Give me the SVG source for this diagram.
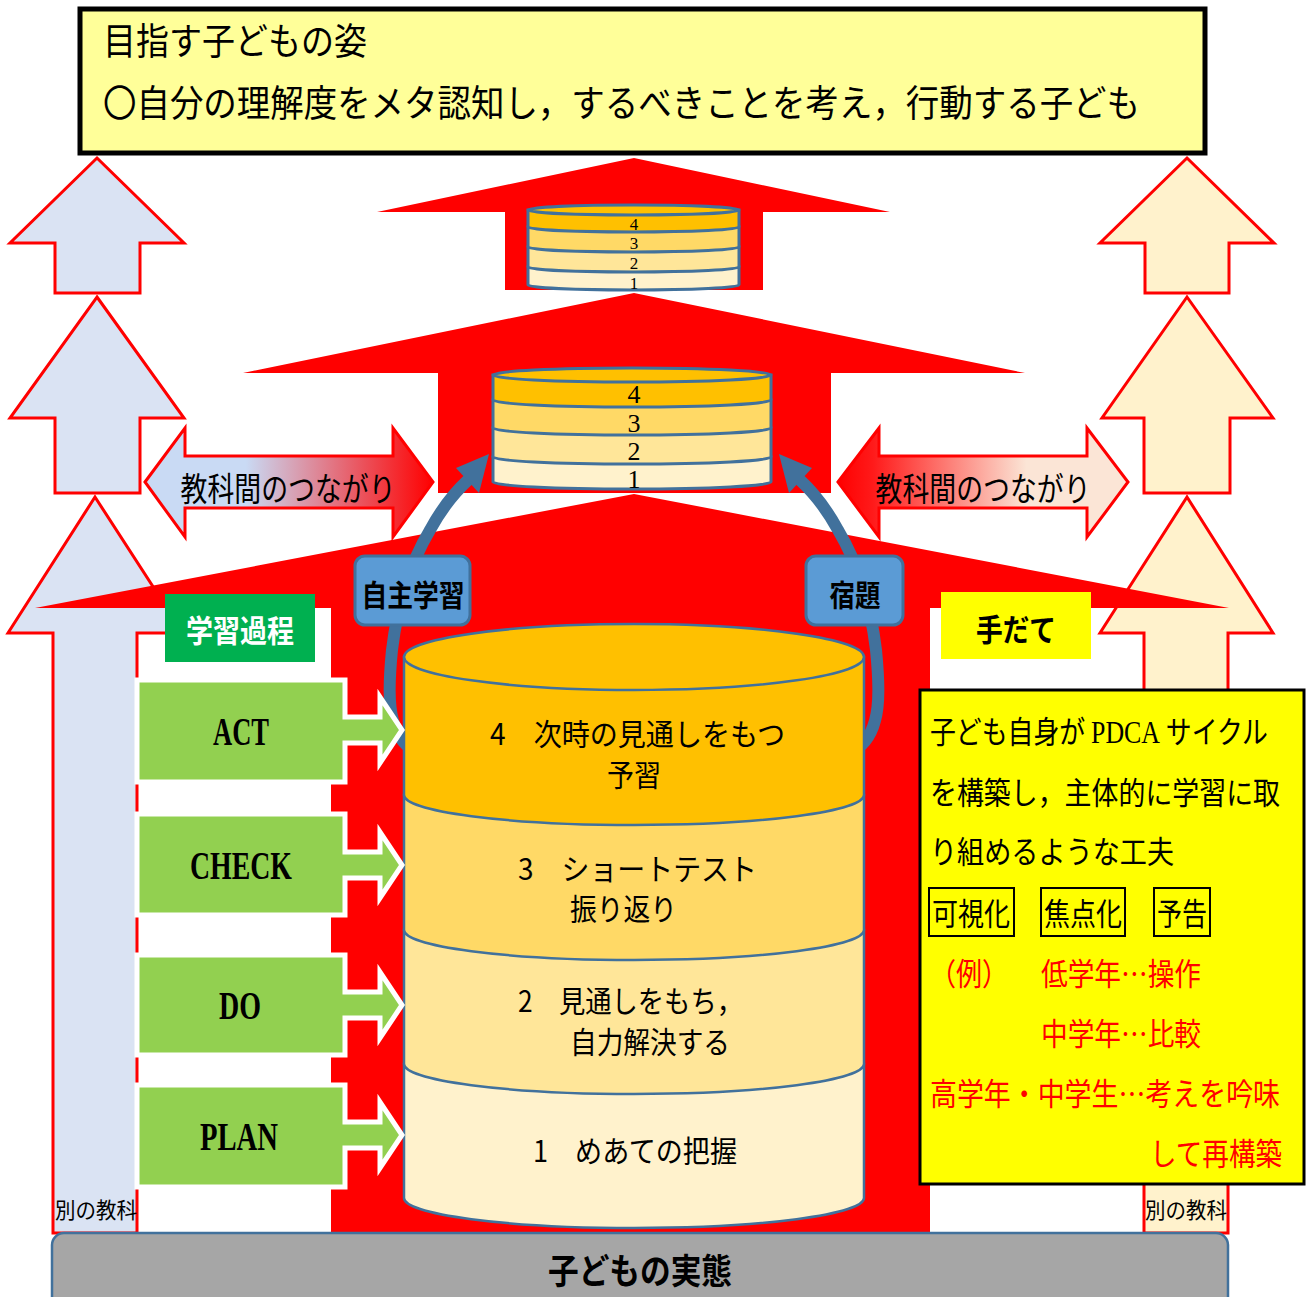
<svg xmlns="http://www.w3.org/2000/svg" width="1307" height="1297" viewBox="0 0 1307 1297">
<defs>
<style>
.red{fill:#FF0000}
.ua-l{fill:#DAE3F3;stroke:#FF0000;stroke-width:3}
.ua-r{fill:#FFF2CC;stroke:#FF0000;stroke-width:3}
.l4{fill:#FFC000}.l3{fill:#FFD966}.l2{fill:#FFE699}.l1{fill:#FFF2CC}
.cyl{stroke:#41719C;stroke-width:2.5}
.cyls{stroke:#41719C;stroke-width:3}
.jp{font-family:"Noto Sans CJK JP","Noto Sans",sans-serif}
.sf{font-family:"Liberation Serif","Noto Sans CJK JP",serif}
.callout{fill:#92D050;stroke:#FFFFFF;stroke-width:5}
.dbl{stroke:#FF0000;stroke-width:3}
.curve{fill:none;stroke:#41719C;stroke-width:12}
.head{fill:#41719C}
.tag{fill:#5B9BD5;stroke:#41719C;stroke-width:3}
</style>
<linearGradient id="gl" x1="0" y1="0" x2="1" y2="0">
<stop offset="0" stop-color="#C9DAF4"/>
<stop offset="0.35" stop-color="#C9DAF4"/>
<stop offset="1" stop-color="#FF0000"/>
</linearGradient>
<linearGradient id="gr" x1="0" y1="0" x2="1" y2="0">
<stop offset="0" stop-color="#FF0000"/>
<stop offset="0.12" stop-color="#FF1A1A"/>
<stop offset="0.65" stop-color="#FBE5D6"/>
<stop offset="1" stop-color="#FBE5D6"/>
</linearGradient>
</defs>
<rect width="1307" height="1297" fill="#FFFFFF"/>

<g id="side-arrows-left">
<path class="ua-l" d="M97,158 L184,243 L140,243 L140,293 L55,293 L55,243 L10,243 Z"/>
<path class="ua-l" d="M97,297 L184,418 L140,418 L140,493 L55,493 L55,418 L10,418 Z"/>
<path class="ua-l" d="M95,497 L183,633 L137,633 L137,1233 L53,1233 L53,633 L8,633 Z"/>
</g>
<g id="side-arrows-right">
<path class="ua-r" d="M1187,158 L1274,243 L1229,243 L1229,293 L1145,293 L1145,243 L1100,243 Z"/>
<path class="ua-r" d="M1187,297 L1273,418 L1230,418 L1230,493 L1144,493 L1144,418 L1102,418 Z"/>
<path class="ua-r" d="M1187,497 L1273,633 L1228,633 L1228,1233 L1144,1233 L1144,633 L1100,633 Z"/>
</g>

<g id="houses">
<path class="red" d="M377,212 L634,158 L890,212 L763,212 L763,290 L505,290 L505,212 Z"/>
<path class="red" d="M243,373 L634,293 L1025,373 L831,373 L831,493 L438,493 L438,373 Z"/>
<path class="red" d="M35,608 L634,494 L1229,608 L930,608 L930,1233 L331,1233 L331,608 Z"/>
</g>

<g id="stack-small">
<path class="l1 cyls" d="M528,267 V285 A105.5,5 0 0 0 739,285 V267 Z"/>
<path class="l2 cyls" d="M528,247 V267 A105.5,5 0 0 0 739,267 V247 Z"/>
<path class="l3 cyls" d="M528,227 V247 A105.5,5 0 0 0 739,247 V227 Z"/>
<path class="l4 cyls" d="M528,210 V227 A105.5,5 0 0 0 739,227 V210 Z"/>
<ellipse class="l4 cyls" cx="633.5" cy="210" rx="105.5" ry="5"/>
<g class="sf" font-size="17" text-anchor="middle" fill="#000">
<text x="634" y="230">4</text>
<text x="634" y="249">3</text>
<text x="634" y="269">2</text>
<text x="634" y="289">1</text>
</g>
</g>

<g id="stack-middle">
<path class="l1 cyls" d="M493,457 V482 A139,7 0 0 0 771,482 V457 Z"/>
<path class="l2 cyls" d="M493,428 V457 A139,7 0 0 0 771,457 V428 Z"/>
<path class="l3 cyls" d="M493,400 V428 A139,7 0 0 0 771,428 V400 Z"/>
<path class="l4 cyls" d="M493,375 V400 A139,7 0 0 0 771,400 V375 Z"/>
<ellipse class="l4 cyls" cx="632" cy="375" rx="139" ry="7"/>
<g class="sf" font-size="26" text-anchor="middle" fill="#000">
<text x="634" y="403">4</text>
<text x="634" y="432">3</text>
<text x="634" y="460">2</text>
<text x="634" y="488">1</text>
</g>
</g>

<g id="link-left">
<path class="dbl" fill="url(#gl)" d="M145,482 L185,428 L185,456 L393,456 L393,428 L433,482 L393,537 L393,508 L185,508 L185,537 Z"/>
<text class="jp" x="288" y="501" font-size="33" text-anchor="middle" textLength="215" lengthAdjust="spacingAndGlyphs" fill="#000">教科間のつながり</text>
</g>
<g id="link-right">
<path class="dbl" fill="url(#gr)" d="M838,482 L879,428 L879,456 L1087,456 L1087,428 L1128,482 L1087,537 L1087,508 L879,508 L879,537 Z"/>
<text class="jp" x="983" y="501" font-size="33" text-anchor="middle" textLength="215" lengthAdjust="spacingAndGlyphs" fill="#000">教科間のつながり</text>
</g>

<g id="connectors">
<path class="curve" d="M410,748 C386,730 388,690 392,650 C398,600 412,560 430,530 C442,508 455,492 468,480"/>
<polygon class="head" points="489,454 456,468 479,493"/>
<path class="curve" d="M858,748 C882,730 880,690 876,650 C870,600 856,560 838,530 C826,508 813,492 800,480"/>
<polygon class="head" points="779,454 812,468 789,493"/>
</g>

<g id="tag-jishu">
<rect class="tag" x="355" y="556" width="115" height="69" rx="10"/>
<text class="jp" x="413" y="606" font-size="30" font-weight="bold" text-anchor="middle" textLength="103" lengthAdjust="spacingAndGlyphs" fill="#000">自主学習</text>
</g>
<g id="tag-shukudai">
<rect class="tag" x="806" y="556" width="97" height="69" rx="10"/>
<text class="jp" x="855" y="606" font-size="30" font-weight="bold" text-anchor="middle" textLength="51" lengthAdjust="spacingAndGlyphs" fill="#000">宿題</text>
</g>

<g id="cylinder-main">
<path class="l1 cyl" d="M404,1064 V1198 A230,30 0 0 0 864,1198 V1064 Z"/>
<path class="l2 cyl" d="M404,930 V1064 A230,30 0 0 0 864,1064 V930 Z"/>
<path class="l3 cyl" d="M404,795 V930 A230,30 0 0 0 864,930 V795 Z"/>
<path class="l4 cyl" d="M404,657 V795 A230,30 0 0 0 864,795 V657 Z"/>
<ellipse class="l4 cyl" cx="634" cy="657" rx="230" ry="33"/>
<g class="jp" font-size="30" fill="#000">
<text x="490" y="745" textLength="295" lengthAdjust="spacingAndGlyphs">4　次時の見通しをもつ</text>
<text x="634" y="786" text-anchor="middle" textLength="54" lengthAdjust="spacingAndGlyphs">予習</text>
<text x="518" y="880" textLength="239" lengthAdjust="spacingAndGlyphs">3　ショートテスト</text>
<text x="570" y="920" textLength="107" lengthAdjust="spacingAndGlyphs">振り返り</text>
<text x="518" y="1012" textLength="225" lengthAdjust="spacingAndGlyphs">2　見通しをもち，</text>
<text x="570" y="1053" textLength="160" lengthAdjust="spacingAndGlyphs">自力解決する</text>
<text x="533" y="1162" textLength="204" lengthAdjust="spacingAndGlyphs">1　めあての把握</text>
</g>
</g>

<g id="process-act">
<path class="callout" d="M137,680 H345 V717 H380 V697 L402,730 L380,763 V743 H345 V782 H137 Z"/>
<text class="sf" x="241" y="745" font-size="40" font-weight="bold" text-anchor="middle" textLength="56" lengthAdjust="spacingAndGlyphs" fill="#000">ACT</text>
</g>
<g id="process-check">
<path class="callout" d="M137,814 H345 V852 H380 V832 L402,865 L380,898 V878 H345 V915 H137 Z"/>
<text class="sf" x="241" y="879" font-size="40" font-weight="bold" text-anchor="middle" textLength="102" lengthAdjust="spacingAndGlyphs" fill="#000">CHECK</text>
</g>
<g id="process-do">
<path class="callout" d="M137,955 H345 V992 H380 V972 L402,1005 L380,1038 V1018 H345 V1055 H137 Z"/>
<text class="sf" x="240" y="1019" font-size="40" font-weight="bold" text-anchor="middle" textLength="42" lengthAdjust="spacingAndGlyphs" fill="#000">DO</text>
</g>
<g id="process-plan">
<path class="callout" d="M137,1085 H345 V1122 H380 V1102 L402,1135 L380,1168 V1148 H345 V1187 H137 Z"/>
<text class="sf" x="239" y="1150" font-size="40" font-weight="bold" text-anchor="middle" textLength="78" lengthAdjust="spacingAndGlyphs" fill="#000">PLAN</text>
</g>

<g id="label-process">
<rect x="165" y="594" width="150" height="68" fill="#00B050"/>
<text class="jp" x="240" y="642" font-size="31" font-weight="bold" text-anchor="middle" textLength="108" lengthAdjust="spacingAndGlyphs" fill="#FFFFFF">学習過程</text>
</g>
<g id="label-tedate">
<rect x="941" y="592" width="150" height="67" fill="#FFFF00"/>
<text class="jp" x="1016" y="641" font-size="31" font-weight="bold" text-anchor="middle" textLength="80" lengthAdjust="spacingAndGlyphs" fill="#000">手だて</text>
</g>

<g id="box-tedate">
<rect x="920" y="690" width="384" height="494" fill="#FFFF00" stroke="#000" stroke-width="3"/>
<g class="jp" font-size="31" fill="#000">
<text x="930" y="743" textLength="338" lengthAdjust="spacingAndGlyphs">子ども自身が <tspan class="sf">PDCA</tspan> サイクル</text>
<text x="930" y="804" textLength="350" lengthAdjust="spacingAndGlyphs">を構築し，主体的に学習に取</text>
<text x="930" y="863" textLength="244" lengthAdjust="spacingAndGlyphs">り組めるような工夫</text>
<text x="932" y="925" textLength="78" lengthAdjust="spacingAndGlyphs">可視化</text>
<text x="1044" y="925" textLength="78" lengthAdjust="spacingAndGlyphs">焦点化</text>
<text x="1157" y="925" textLength="50" lengthAdjust="spacingAndGlyphs">予告</text>
</g>
<g fill="none" stroke="#000" stroke-width="2">
<rect x="929" y="888" width="85" height="48"/>
<rect x="1041" y="888" width="84" height="48"/>
<rect x="1154" y="888" width="56" height="48"/>
</g>
<g class="jp" font-size="31" fill="#FF0000">
<text x="930" y="985" textLength="78" lengthAdjust="spacingAndGlyphs">（例）</text>
<text x="1041" y="985" textLength="160" lengthAdjust="spacingAndGlyphs">低学年…操作</text>
<text x="1041" y="1045" textLength="160" lengthAdjust="spacingAndGlyphs">中学年…比較</text>
<text x="930" y="1105" textLength="350" lengthAdjust="spacingAndGlyphs">高学年・中学生…考えを吟味</text>
<text x="1282" y="1165" text-anchor="end" textLength="132" lengthAdjust="spacingAndGlyphs">して再構築</text>
</g>
</g>

<g id="other-subject-left">
<text class="jp" x="55" y="1218" font-size="22" textLength="82" lengthAdjust="spacingAndGlyphs" fill="#000">別の教科</text>
</g>
<g id="other-subject-right">
<text class="jp" x="1145" y="1218" font-size="22" textLength="82" lengthAdjust="spacingAndGlyphs" fill="#000">別の教科</text>
</g>

<g id="base-bar">
<rect x="52" y="1233" width="1176" height="90" rx="12" fill="#A6A6A6" stroke="#41719C" stroke-width="2.5"/>
<text class="jp" x="640" y="1284" font-size="35" font-weight="bold" text-anchor="middle" textLength="184" lengthAdjust="spacingAndGlyphs" fill="#000">子どもの実態</text>
</g>

<g id="goal-box">
<rect x="80" y="9" width="1125" height="144" fill="#FFFF99" stroke="#000" stroke-width="5"/>
<g class="jp" font-size="37" fill="#000">
<text x="103" y="55" textLength="264" lengthAdjust="spacingAndGlyphs">目指す子どもの姿</text>
<text x="103" y="117" textLength="1037" lengthAdjust="spacingAndGlyphs">〇自分の理解度をメタ認知し，するべきことを考え，行動する子ども</text>
</g>
</g>
</svg>
